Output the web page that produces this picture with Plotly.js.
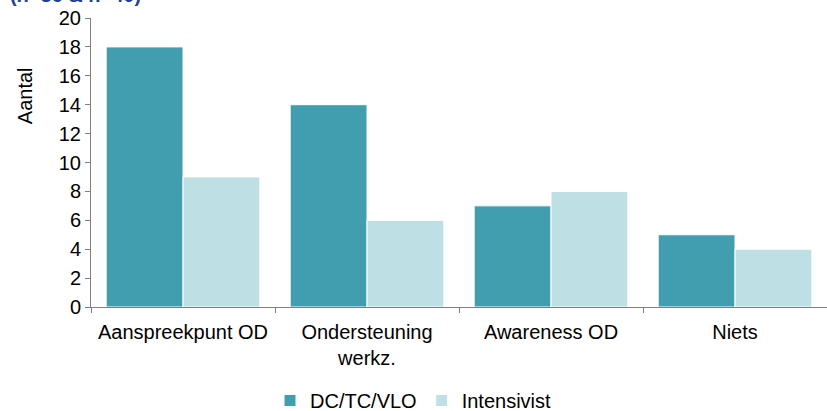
<!DOCTYPE html>
<html><head><meta charset="utf-8">
<script src="https://cdn.plot.ly/plotly-3.0.1.min.js"></script>
<style>html,body{margin:0;padding:0;background:#fff}#chart{width:827px;height:411px}</style>
</head><body><div id="chart"></div>
<script>
const categories = ["Aanspreekpunt OD", "Ondersteuning<br>werkz.", "Awareness OD", "Niets"];
const seriesNames = ["DC/TC/VLO", "Intensivist"];
const dcValues = [18, 14, 7, 5];
const intValues = [9, 6, 8, 4];
const yTicks = [0, 2, 4, 6, 8, 10, 12, 14, 16, 18, 20];
const titleText = "(n=36 & n=40)";
const yTitle = "Aantal";

const font = {family: "Liberation Sans, Arial, sans-serif", size: 20, color: "#000"};
const data = [
  {type: "bar", x: categories, y: dcValues, name: seriesNames[0], marker: {color: "#409EAE", line: {color: "#fff", width: 1}}},
  {type: "bar", x: categories, y: intValues, name: seriesNames[1], marker: {color: "#BEDFE4", line: {color: "#fff", width: 1}}}
];
const layout = {
  width: 827, height: 411,
  margin: {l: 91, r: 0, t: 18, b: 104, autoexpand: false},
  paper_bgcolor: "#fff", plot_bgcolor: "#fff",
  font: font,
  barmode: "group", bargap: 0.165, bargroupgap: 0,
  title: {text: "<b>" + titleText + "</b>", font: {family: "Liberation Sans, Arial, sans-serif", size: 20, color: "#1F3F99"},
          xref: "container", x: 0.012, xanchor: "left", yref: "container", y: 0.996, yanchor: "bottom"},
  xaxis: {type: "category", showline: true, linecolor: "#808080", linewidth: 1, ticks: "outside", tickson: "boundaries",
          ticklen: 5, tickcolor: "#808080", showgrid: false, tickfont: font, zeroline: false, ticklabelstandoff: 7},
  yaxis: {range: [0, 20], tickvals: yTicks, showline: true, linecolor: "#808080", linewidth: 1, ticks: "outside",
          ticklen: 5, tickcolor: "#808080", showgrid: false, zeroline: false, tickfont: font},
  annotations: [{text: yTitle, textangle: -90, xref: "paper", yref: "paper", x: -0.0897, y: 0.733,
                 xanchor: "center", yanchor: "middle", showarrow: false, font: font}],
  legend: {orientation: "h", x: 0.5, xanchor: "center", xref: "container", y: -0.256, yref: "paper", yanchor: "top", font: font, traceorder: "normal"},
  showlegend: true
};
Plotly.newPlot("chart", data, layout, {displayModeBar: false, staticPlot: true});
</script></body></html>
